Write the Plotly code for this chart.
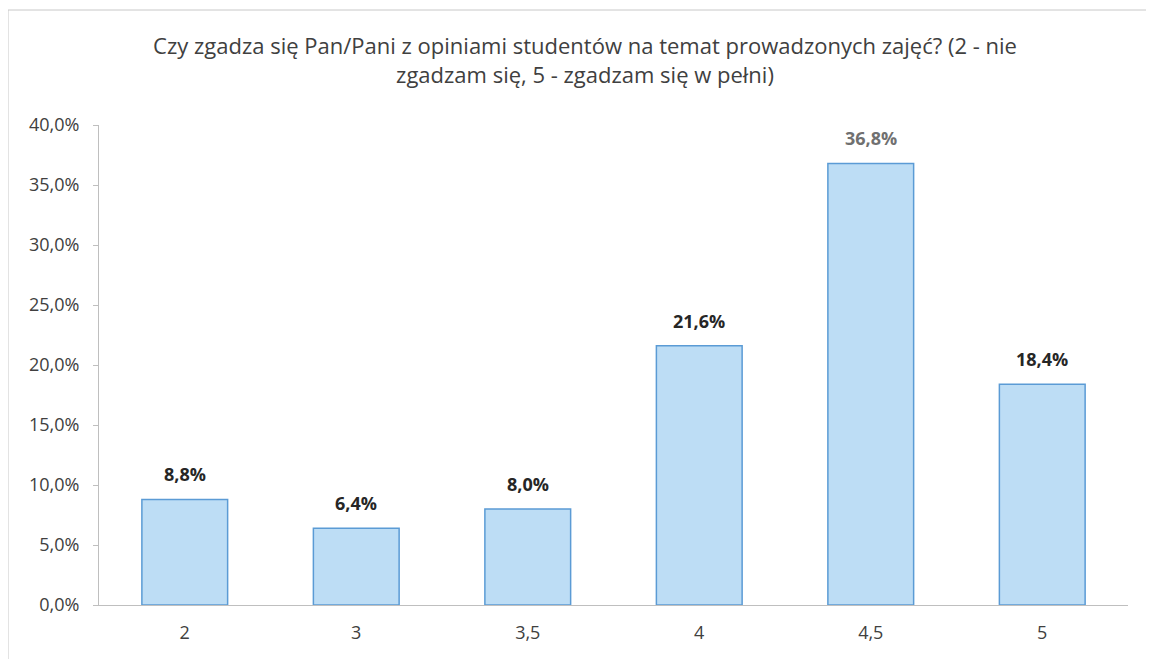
import plotly.graph_objects as go

categories = ["2", "3", "3,5", "4", "4,5", "5"]
values = [8.8, 6.4, 8.0, 21.6, 36.8, 18.4]
labels = ["8,8%", "6,4%", "8,0%", "21,6%", "36,8%", "18,4%"]
label_colors = ["#262626", "#262626", "#262626", "#262626", "#707070", "#262626"]
ytick_vals = [0, 5, 10, 15, 20, 25, 30, 35, 40]
ytick_text = ["0,0%", "5,0%", "10,0%", "15,0%", "20,0%", "25,0%", "30,0%", "35,0%", "40,0%"]

FONT = "Open Sans"
W, H = 1154, 659
ML, MR, MT, MB = 91, 34, 117, 62
PW, PH = W - ML - MR, H - MT - MB

fig = go.Figure()
fig.add_trace(go.Bar(
    x=categories, y=values,
    marker=dict(color="#BDDDF5", line=dict(color="#5B9BD5", width=1.5)),
    hoverinfo="skip",
))

for i, (v, t, col) in enumerate(zip(values, labels, label_colors)):
    fig.add_annotation(x=i, y=v, xref="x", yref="y", text=f"<b>{t}</b>", showarrow=False,
                       yanchor="bottom", yshift=11,
                       font=dict(family=FONT, size=18, color=col))

fig.update_layout(
    width=W, height=H,
    paper_bgcolor="white", plot_bgcolor="white",
    margin=dict(l=ML, r=MR, t=MT, b=MB),
    bargap=0.5,
    showlegend=False,
    title=dict(
        text="Czy zgadza się Pan/Pani z opiniami studentów na temat prowadzonych zajęć? (2 - nie<br>zgadzam się, 5 - zgadzam się w pełni)",
        x=0.5, xanchor="center", y=1 - 46 / H, yanchor="top",
        font=dict(family=FONT, size=22, color="#404040"),
    ),
    xaxis=dict(
        type="category",
        showline=True, linecolor="#BFBFBF", linewidth=1,
        ticks="", tickfont=dict(family=FONT, size=18, color="#404040"),
        ticklabelstandoff=11,
        showgrid=False,
    ),
    yaxis=dict(
        range=[0, 40], tickvals=ytick_vals, ticktext=ytick_text,
        showline=True, linecolor="#BFBFBF", linewidth=1,
        ticks="outside", ticklen=5, tickcolor="#BFBFBF",
        tickfont=dict(family=FONT, size=18, color="#404040"),
        ticklabelstandoff=10,
        showgrid=False, zeroline=False,
    ),
)

# faint chart border (top, left, bottom)
x0 = -ML / PW
x1 = 1 + (MR + 8) / PW
ytop = 1 + (MT - 2) / PH
ybot = -(MB - 6) / PH
fig.add_shape(type="line", xref="paper", yref="paper", x0=x0, x1=x1, y0=ytop, y1=ytop,
              line=dict(color="#C8C8C8", width=1))
fig.add_shape(type="line", xref="paper", yref="paper", x0=x0, x1=x0, y0=ybot, y1=ytop,
              line=dict(color="#C8C8C8", width=1))
fig.add_shape(type="line", xref="paper", yref="paper", x0=x0, x1=x1, y0=ybot, y1=ybot,
              line=dict(color="#DDDDDD", width=1))

fig.write_html("out.html")
